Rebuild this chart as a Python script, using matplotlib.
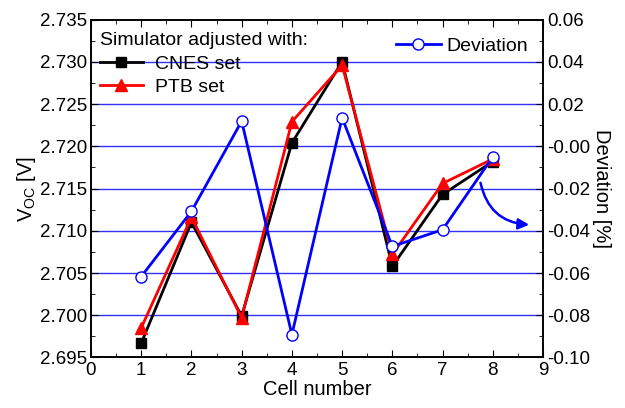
import matplotlib
matplotlib.use("Agg")
import matplotlib.pyplot as plt
from matplotlib.ticker import MultipleLocator

plt.rcParams['font.family'] = ['Liberation Sans', 'DejaVu Sans']
plt.rcParams['font.size'] = 13.5
plt.rcParams['mathtext.fontset'] = 'custom'
plt.rcParams['mathtext.rm'] = 'Liberation Sans'
plt.rcParams['mathtext.it'] = 'Liberation Sans'

# ---------- DATA ----------
cells = [1, 2, 3, 4, 5, 6, 7, 8]
voc_cnes = [2.6967, 2.7110, 2.6999, 2.7204, 2.7300, 2.7058, 2.7143, 2.7182]
voc_ptb = [2.6985, 2.7116, 2.6997, 2.7229, 2.7296, 2.7072, 2.7156, 2.7185]
deviation = [-0.0617, -0.0308, 0.0119, -0.0892, 0.0135, -0.0474, -0.0395, -0.0050]

fig = plt.figure(figsize=(6.25, 4.08), dpi=100)
ax = fig.add_axes([0.1456, 0.1238, 0.7232, 0.8282])

ax.set_xlim(0, 9)
ax.set_ylim(2.695, 2.735)
ax.xaxis.set_major_locator(MultipleLocator(1))
ax.xaxis.set_minor_locator(MultipleLocator(0.5))
ax.yaxis.set_major_locator(MultipleLocator(0.005))
ax.yaxis.set_minor_locator(MultipleLocator(0.0025))
ax.yaxis.set_major_formatter(plt.FormatStrFormatter('%.3f'))

# horizontal blue reference lines
for v in [2.700, 2.705, 2.710, 2.715, 2.720, 2.725, 2.730]:
    ax.axhline(v, color='#3030ff', lw=1.0, zorder=1)

l1, = ax.plot(cells, voc_cnes, color='black', lw=2, marker='s', ms=7,
              mfc='black', mec='black', zorder=3, label='CNES set')
l2, = ax.plot(cells, voc_ptb, color='red', lw=2, marker='^', ms=9,
              mfc='red', mec='red', zorder=3, label='PTB set')

ax.tick_params(which='both', direction='in', top=True, right=False, labelsize=13.5)
ax.tick_params(which='major', length=5, pad=3)
ax.tick_params(which='minor', length=3)
ax.set_xlabel('Cell number', fontsize=14.5, labelpad=1)
ax.set_ylabel('V$_{OC}$ [V]', fontsize=14.5, labelpad=1)

ax2 = ax.twinx()
ax2.set_ylim(-0.10, 0.06)
ax2.yaxis.set_major_locator(MultipleLocator(0.02))
ax2.yaxis.set_minor_locator(MultipleLocator(0.01))
ax2.yaxis.set_major_formatter(plt.FormatStrFormatter('%.2f'))
ax2.tick_params(which='both', direction='in', labelsize=13.5)
ax2.tick_params(which='major', length=5, pad=3)
ax2.tick_params(which='minor', length=3)
l3, = ax2.plot(cells, deviation, color='blue', lw=2, marker='o', ms=8,
               mfc='white', mec='blue', mew=1.0, label='Deviation')
ax2.set_ylabel('Deviation [%]', fontsize=14.5, rotation=270, labelpad=15)

for a in (ax, ax2):
    for s in a.spines.values():
        s.set_linewidth(1.2)

leg1 = ax.legend(handles=[l1, l2], title='Simulator adjusted with:', loc='upper left',
                 bbox_to_anchor=(0.02, 0.963), frameon=False, fontsize=14,
                 title_fontsize=14, handlelength=2.2, borderaxespad=0, borderpad=0,
                 labelspacing=0.3, alignment='left', handletextpad=0.65)
ax2.legend(handles=[l3], loc='upper right', bbox_to_anchor=(0.967, 0.948),
           frameon=False, fontsize=14, handlelength=2.3, borderaxespad=0,
           borderpad=0, handletextpad=0.3)

ax.annotate('', xy=(8.78, 2.7107), xytext=(7.745, 2.7160),
            arrowprops=dict(arrowstyle='-|>', color='blue', lw=1.8,
                            connectionstyle='arc3,rad=0.4', mutation_scale=16),
            zorder=4)

fig.savefig('out.png', dpi=100)
